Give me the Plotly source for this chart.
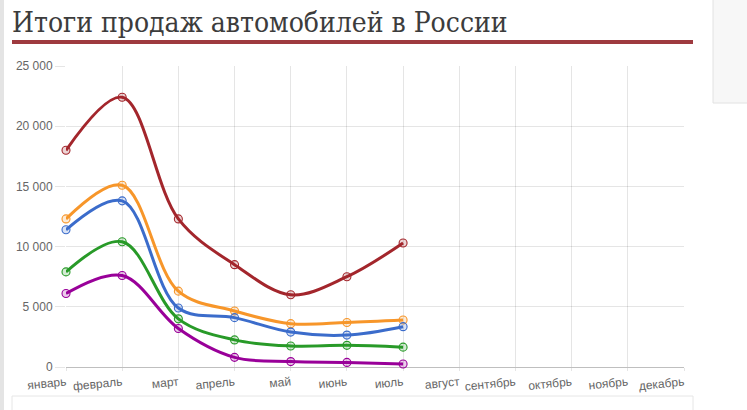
import plotly.graph_objects as go

months = ["январь", "февраль", "март", "апрель", "май", "июнь", "июль",
          "август", "сентябрь", "октябрь", "ноябрь", "декабрь"]
observed = months[:7]

series_red = [18000, 22400, 12300, 8500, 6000, 7500, 10300]
series_orange = [12300, 15100, 6300, 4650, 3600, 3700, 3900]
series_blue = [11400, 13800, 4900, 4100, 2900, 2650, 3350]
series_green = [7900, 10400, 4000, 2250, 1750, 1800, 1650]
series_purple = [6100, 7600, 3200, 800, 450, 380, 250]

y_ticks = [0, 5000, 10000, 15000, 20000, 25000]

W, H = 747, 410
L, R, T, B = 66, 63, 66, 43
PW, PH = W - L - R, H - T - B


def px_x(p):
    return (p - L) / PW


def px_y(p):
    return (H - B - p) / PH


fig = go.Figure()

styles = [
    (series_red, "#a3262c", "rgba(163,38,44,0.2)"),
    (series_orange, "#f7962a", "rgba(247,150,42,0.2)"),
    (series_blue, "#3b6ccb", "rgba(59,108,203,0.2)"),
    (series_green, "#289a28", "rgba(40,154,40,0.2)"),
    (series_purple, "#990099", "rgba(153,0,153,0.2)"),
]

for vals, col, fill in styles:
    fig.add_trace(go.Scatter(
        x=observed, y=vals, mode="lines+markers",
        line=dict(color=col, width=3, shape="spline", smoothing=1.0),
        marker=dict(symbol="circle", size=8, color=fill,
                    line=dict(color=col, width=1.1)),
        cliponaxis=False, showlegend=False, hoverinfo="skip",
    ))

grid = "rgba(0,0,0,0.1)"
tick_font = dict(family="Liberation Sans, Arial, sans-serif", size=12, color="#666666")

fig.update_xaxes(
    type="category", categoryorder="array", categoryarray=months,
    range=[0, 11], showgrid=True, gridcolor=grid, gridwidth=1,
    ticks="outside", ticklen=3, tickcolor=grid, tickwidth=1,
    tickangle=-6, tickfont=tick_font, showline=False, zeroline=False,
    fixedrange=True,
)
fig.update_yaxes(
    range=[0, 25000], tickvals=y_ticks, tickformat=",d",
    showgrid=True, gridcolor=grid, gridwidth=1,
    ticks="outside", ticklen=10, tickcolor=grid, tickwidth=1,
    tickfont=tick_font, zeroline=True, zerolinecolor="rgba(0,0,0,0.25)",
    zerolinewidth=1, showline=False, fixedrange=True,
)

shapes = [
    # left page strip
    dict(type="rect", xref="paper", yref="paper",
         x0=px_x(0), x1=px_x(4), y0=px_y(H + 5), y1=px_y(-5),
         fillcolor="#e4e4e4", line=dict(width=0), layer="below"),
    # title underline
    dict(type="rect", xref="paper", yref="paper",
         x0=px_x(12), x1=px_x(693), y0=px_y(44), y1=px_y(40),
         fillcolor="#9e3a3f", line=dict(width=0)),
    # right side panel
    dict(type="rect", xref="paper", yref="paper",
         x0=px_x(713), x1=px_x(W + 5), y0=px_y(103), y1=px_y(-5),
         fillcolor="#f7f7f7", line=dict(color="#e2e2e2", width=1)),
    # bottom box
    dict(type="rect", xref="paper", yref="paper",
         x0=px_x(12), x1=px_x(693), y0=px_y(H + 5), y1=px_y(396),
         fillcolor="#ffffff", line=dict(color="#e6e6e6", width=1)),
]

fig.update_layout(
    width=W, height=H,
    margin=dict(l=L, r=R, t=T, b=B, pad=0),
    paper_bgcolor="#ffffff", plot_bgcolor="#ffffff",
    separators=". ",
    shapes=shapes,
    title=dict(
        text="Итоги продаж автомобилей в России",
        x=12 / W, xanchor="left", xref="container",
        y=1 - 22 / H, yanchor="middle", yref="container",
        font=dict(family="DejaVu Serif Condensed, DejaVu Serif, serif", size=28, color="#3c3c3c"),
    ),
)

fig.write_html("out.html")
